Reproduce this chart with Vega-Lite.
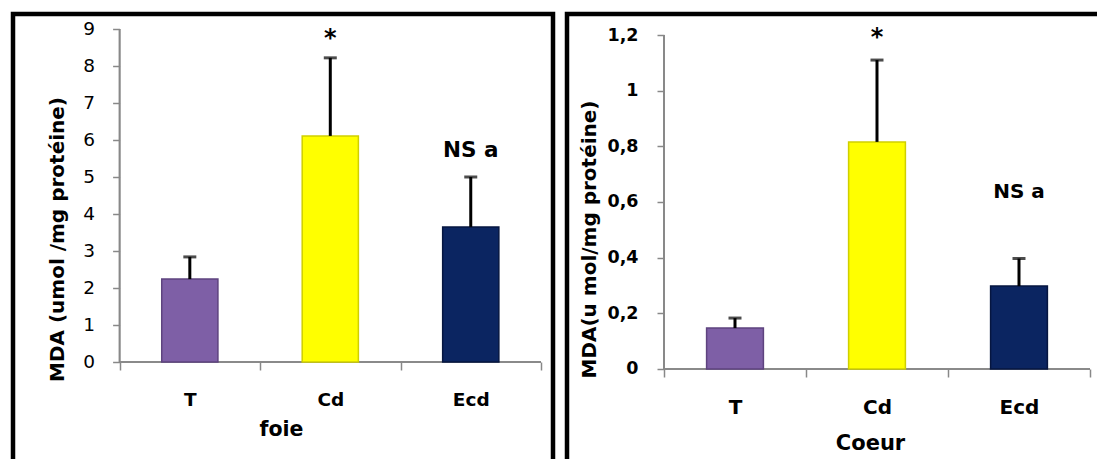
{
  "$schema": "https://vega.github.io/schema/vega-lite/v6.json",
  "background": "white",
  "padding": {"left": 10, "top": 11, "right": 0, "bottom": 0},
  "spacing": 8,
  "config": {"font": "DejaVu Sans", "axis": {"grid": false}},
  "datasets": {
    "foie": [
      {"groupe": "T", "valeur": 2.24, "haut": 2.84},
      {"groupe": "Cd", "valeur": 6.11, "haut": 8.22},
      {"groupe": "Ecd", "valeur": 3.65, "haut": 5.0}
    ],
    "coeur": [
      {"groupe": "T", "valeur": 0.147, "haut": 0.183},
      {"groupe": "Cd", "valeur": 0.816, "haut": 1.11},
      {"groupe": "Ecd", "valeur": 0.298, "haut": 0.397}
    ],
    "foieEtoile": [{"groupe": "Cd", "texte": "*", "pos": 8.54}],
    "foieNS": [{"groupe": "Ecd", "texte": "NS a", "pos": 5.54}],
    "coeurEtoile": [{"groupe": "Cd", "texte": "*", "pos": 1.164}],
    "coeurNS": [{"groupe": "Ecd", "texte": "NS a", "pos": 0.614}]
  },
  "hconcat": [
    {
      "width": 540,
      "height": 450,
      "view": {"stroke": "black", "strokeWidth": 4.5, "fill": "white"},
      "data": {"name": "foie"},
      "encoding": {
        "x": {
          "field": "groupe", "type": "nominal",
          "scale": {"domain": ["T", "Cd", "Ecd"], "paddingInner": 0, "paddingOuter": 0.4222, "align": 0.8987},
          "axis": {
            "orient": "bottom", "offset": -102, "domain": false, "tickBand": "extent",
            "tickSize": 8, "tickColor": "#888888", "tickWidth": 1.5,
            "labelFontSize": 18.5, "labelFontWeight": "bold", "labelColor": "black", "labelPadding": 20, "labelAngle": 0,
            "title": "foie", "titleFontSize": 20.5, "titleFontWeight": "bold", "titleColor": "black",
            "titleX": 268, "titleY": 73, "titleBaseline": "alphabetic"
          }
        },
        "y": {
          "field": "valeur", "type": "quantitative",
          "scale": {"domain": [-2.757, 9.405], "nice": false, "zero": false},
          "axis": {
            "orient": "left", "offset": -106.6, "values": [0, 1, 2, 3, 4, 5, 6, 7, 8, 9], "domain": false,
            "tickSize": 7, "tickColor": "#888888", "tickWidth": 1.5,
            "labelFontSize": 18.5, "labelColor": "black", "labelPadding": 18,
            "title": "MDA (umol /mg protéine)", "titleFontSize": 20, "titleFontWeight": "bold", "titleColor": "black", "titlePadding": 15
          }
        }
      },
      "layer": [
        {
          "mark": {"type": "rule", "color": "#888888", "strokeWidth": 1.5},
          "encoding": {"x": {"datum": "T", "type": "nominal", "bandPosition": 0}, "y": {"datum": 0, "type": "quantitative"}, "y2": {"datum": 9}}
        },
        {
          "mark": {"type": "rule", "color": "#888888", "strokeWidth": 1.5},
          "encoding": {"x": {"datum": "T", "type": "nominal", "bandPosition": 0}, "x2": {"datum": "Ecd", "bandPosition": 1}, "y": {"datum": 0, "type": "quantitative"}}
        },
        {
          "mark": {"type": "bar", "width": {"band": 0.4}, "strokeWidth": 1.5},
          "encoding": {
            "color": {"field": "groupe", "type": "nominal", "scale": {"domain": ["T", "Cd", "Ecd"], "range": ["#7E5FA6", "#FFFF00", "#0B2561"]}, "legend": null},
            "stroke": {"field": "groupe", "type": "nominal", "scale": {"domain": ["T", "Cd", "Ecd"], "range": ["#5E437F", "#CFCF00", "#061640"]}, "legend": null}
          }
        },
        {
          "mark": {"type": "rule", "color": "black", "strokeWidth": 3},
          "encoding": {"y2": {"field": "haut"}}
        },
        {
          "mark": {"type": "tick", "color": "black", "thickness": 3, "size": 13},
          "encoding": {"y": {"field": "haut", "type": "quantitative"}}
        },
        {
          "data": {"name": "foieEtoile"},
          "mark": {"type": "text", "fontSize": 24, "fontWeight": "bold", "color": "black", "baseline": "alphabetic"},
          "encoding": {"y": {"field": "pos", "type": "quantitative"}, "text": {"field": "texte"}}
        },
        {
          "data": {"name": "foieNS"},
          "mark": {"type": "text", "fontSize": 21.5, "fontWeight": "bold", "color": "black", "baseline": "alphabetic"},
          "encoding": {"y": {"field": "pos", "type": "quantitative"}, "text": {"field": "texte"}}
        }
      ]
    },
    {
      "width": 534,
      "height": 450,
      "view": {"stroke": "black", "strokeWidth": 4.5, "fill": "white"},
      "data": {"name": "coeur"},
      "encoding": {
        "x": {
          "field": "groupe", "type": "nominal",
          "scale": {"domain": ["T", "Cd", "Ecd"], "paddingInner": 0, "paddingOuter": 0.3803, "align": 0.8981},
          "axis": {
            "orient": "bottom", "offset": -95, "domain": false, "tickBand": "extent",
            "tickSize": 8, "tickColor": "#888888", "tickWidth": 1.5,
            "labelFontSize": 20, "labelFontWeight": "bold", "labelColor": "black", "labelPadding": 20, "labelAngle": 0,
            "title": "Coeur", "titleFontSize": 21, "titleFontWeight": "bold", "titleColor": "black",
            "titleX": 303, "titleY": 80, "titleBaseline": "alphabetic"
          }
        },
        "y": {
          "field": "valeur", "type": "quantitative",
          "scale": {"domain": [-0.3414, 1.2755], "nice": false, "zero": false},
          "axis": {
            "orient": "left", "offset": -97, "values": [0, 0.2, 0.4, 0.6, 0.8, 1, 1.2], "domain": false,
            "format": "~g", "labelExpr": "replace(datum.label, '.', ',')",
            "tickSize": 7, "tickColor": "#888888", "tickWidth": 1.5,
            "labelFontSize": 17.5, "labelFontWeight": "bold", "labelColor": "black", "labelPadding": 19,
            "title": "MDA(u mol/mg protéine)", "titleFontSize": 20, "titleFontWeight": "bold", "titleColor": "black", "titlePadding": 7
          }
        }
      },
      "layer": [
        {
          "mark": {"type": "rule", "color": "#888888", "strokeWidth": 1.5},
          "encoding": {"x": {"datum": "T", "type": "nominal", "bandPosition": 0}, "y": {"datum": 0, "type": "quantitative"}, "y2": {"datum": 1.2}}
        },
        {
          "mark": {"type": "rule", "color": "#888888", "strokeWidth": 1.5},
          "encoding": {"x": {"datum": "T", "type": "nominal", "bandPosition": 0}, "x2": {"datum": "Ecd", "bandPosition": 1}, "y": {"datum": 0, "type": "quantitative"}}
        },
        {
          "mark": {"type": "bar", "width": {"band": 0.4}, "strokeWidth": 1.5},
          "encoding": {
            "color": {"field": "groupe", "type": "nominal", "scale": {"domain": ["T", "Cd", "Ecd"], "range": ["#7E5FA6", "#FFFF00", "#0B2561"]}, "legend": null},
            "stroke": {"field": "groupe", "type": "nominal", "scale": {"domain": ["T", "Cd", "Ecd"], "range": ["#5E437F", "#CFCF00", "#061640"]}, "legend": null}
          }
        },
        {
          "mark": {"type": "rule", "color": "black", "strokeWidth": 3},
          "encoding": {"y2": {"field": "haut"}}
        },
        {
          "mark": {"type": "tick", "color": "black", "thickness": 3, "size": 13},
          "encoding": {"y": {"field": "haut", "type": "quantitative"}}
        },
        {
          "data": {"name": "coeurEtoile"},
          "mark": {"type": "text", "fontSize": 24, "fontWeight": "bold", "color": "black", "baseline": "alphabetic"},
          "encoding": {"y": {"field": "pos", "type": "quantitative"}, "text": {"field": "texte"}}
        },
        {
          "data": {"name": "coeurNS"},
          "mark": {"type": "text", "fontSize": 20, "fontWeight": "bold", "color": "black", "baseline": "alphabetic"},
          "encoding": {"y": {"field": "pos", "type": "quantitative"}, "text": {"field": "texte"}}
        }
      ]
    }
  ]
}
